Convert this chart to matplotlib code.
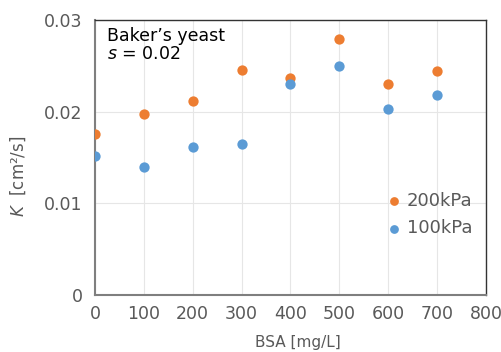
import matplotlib
matplotlib.use("Agg")
import matplotlib.pyplot as plt

plt.rcParams['font.family'] = ['DejaVu Sans']

bsa = [0, 100, 200, 300, 400, 500, 600, 700]
k_200kpa = [0.0176, 0.0198, 0.0212, 0.0246, 0.0237, 0.0279, 0.0230, 0.0244]
k_100kpa = [0.0152, 0.0140, 0.0162, 0.0165, 0.0230, 0.0250, 0.0203, 0.0218]

ORANGE = '#ED7D31'
BLUE = '#5B9BD5'
GRAY = '#595959'

fig = plt.figure(figsize=(5.02, 3.52), dpi=100)
ax = fig.add_axes([0.189, 0.162, 0.779, 0.781])

ax.scatter(bsa, k_200kpa, s=55, color=ORANGE, zorder=3, label='200kPa', linewidths=0)
ax.scatter(bsa, k_100kpa, s=55, color=BLUE, zorder=3, label='100kPa', linewidths=0)

ax.set_xlim(0, 800)
ax.set_ylim(0, 0.03)
ax.set_xticks(range(0, 801, 100))
ax.set_yticks([0, 0.01, 0.02, 0.03])
ax.set_yticklabels(['0', '0.01', '0.02', '0.03'])
ax.grid(True, color='#E6E6E6', linewidth=0.8, zorder=0)
ax.tick_params(axis='y', length=0, labelsize=12.5, labelcolor=GRAY, pad=9)
ax.tick_params(axis='x', length=0, labelsize=12.5, labelcolor=GRAY, pad=7)

for side in ['left', 'bottom']:
    ax.spines[side].set_color('#7F7F7F')
    ax.spines[side].set_linewidth(1.5)
for side in ['top', 'right']:
    ax.spines[side].set_color('#333333')
    ax.spines[side].set_linewidth(1.0)

ax.set_xlabel('BSA [mg/L]', fontsize=11, color=GRAY)
ax.xaxis.set_label_coords(0.52, -0.145)
ax.set_ylabel('$K$  [cm²/s]', fontsize=12, color=GRAY)
ax.yaxis.set_label_coords(-0.17, 0.43)

ax.text(0.03, 0.975, "Baker\u2019s yeast\n$s$ = 0.02", transform=ax.transAxes,
        fontsize=12.5, va='top', ha='left', color='black', linespacing=1.0)

leg = ax.legend(loc='upper left', bbox_to_anchor=(0.70, 0.4), frameon=False,
                fontsize=13, handletextpad=-0.3, labelspacing=0.5,
                markerscale=0.85, labelcolor=GRAY, borderaxespad=0)

fig.savefig('out.png', dpi=100)
